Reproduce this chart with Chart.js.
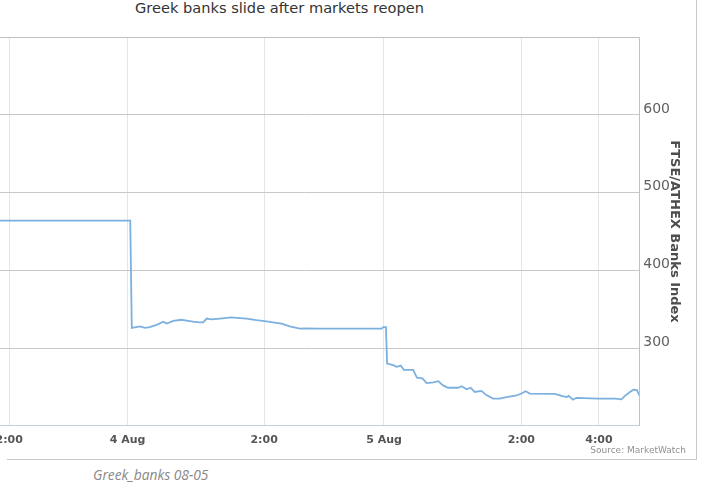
<!DOCTYPE html>
<html>
<head>
<meta charset="utf-8">
<script src="https://cdn.jsdelivr.net/npm/chart.js@4"></script>
<style>
  html, body { margin: 0; padding: 0; background: #fff; overflow: hidden; width: 708px; height: 487px; }
  #frame { position: absolute; left: 7px; top: -10px; width: 689px; height: 469px;
           border-right: 1px solid #c8c8c8; border-bottom: 1px solid #c8c8c8; }
  #title { position: absolute; left: 0; top: -1px; width: 559px; text-align: center;
           font: 14.6px "DejaVu Sans"; color: #333; white-space: nowrap; line-height: 17px; }
  #wrap { position: absolute; left: -30px; top: 0; width: 716px; height: 455px; }
  #credit { position: absolute; right: 22px; top: 445px; font: 9px "DejaVu Sans"; color: #909090; }
  #caption { position: absolute; left: 93px; top: 465px; font: italic 13.8px "Open Sans"; color: #888; }
</style>
</head>
<body>
<div id="frame"></div>
<div id="title">Greek banks slide after markets reopen</div>
<div id="wrap"><canvas id="chart"></canvas></div>
<div id="credit">Source: MarketWatch</div>
<div id="caption">Greek_banks 08-05</div>
<script>
// x is trading-time on an ordinal axis (hours from 4 Aug open, gaps removed)
const tickPos = [-3.05, 0, 3.52, 6.61, 10.15, 12.15];
const tickLabels = ['2:00', '4 Aug', '2:00', '5 Aug', '2:00', '4:00'];

const times = [
  -4.06, 0.07, 0.11, 0.32, 0.45, 0.57, 0.75, 0.92, 1.01, 1.18, 1.39, 1.56, 1.69, 1.86, 1.95,
  2.04, 2.16, 2.38, 2.68, 2.81, 3.07, 3.32, 3.58, 3.75, 3.97, 4.18, 4.44, 4.61, 4.87, 6.55,
  6.59, 6.66, 6.69, 6.85, 6.93, 7.04, 7.12, 7.36, 7.46, 7.60, 7.71, 7.88, 8.01, 8.13, 8.26,
  8.52, 8.61, 8.74, 8.84, 8.95, 9.12, 9.25, 9.42, 9.59, 9.77, 10.03, 10.15, 10.26, 10.37, 11.01,
  11.19, 11.32, 11.37, 11.48, 11.57, 12.13, 12.57, 12.73, 12.82, 12.95, 13.04, 13.13, 13.19
];
const index = [
  464, 464, 326, 328, 326, 327, 330, 334, 331.5, 335, 336.5, 335, 334, 333, 333,
  338, 337, 338, 339.5, 339, 338, 336, 334.5, 333, 331.5, 328, 325, 325.5, 325, 325,
  327, 327, 280, 278, 276, 277.5, 272, 272, 262, 261, 255, 256, 257.5, 252, 249,
  249, 251, 247, 249, 243.5, 245, 239.5, 235, 235, 237, 239, 241.5, 244.5, 241.5, 241,
  238.5, 237, 238.5, 233.5, 236, 235, 235, 234, 238.5, 243.5, 246.5, 246, 239
];

const frame = {
  id: 'frame',
  afterDraw(chart) {
    const { ctx, chartArea: a } = chart;
    const t = Math.round(a.top) + 0.5, r = Math.round(a.right) + 0.5;
    ctx.save();
    ctx.strokeStyle = '#c0c0c0';
    ctx.lineWidth = 1;
    ctx.beginPath();
    ctx.moveTo(a.left, t);
    ctx.lineTo(r, t);
    ctx.lineTo(r, a.bottom);
    ctx.stroke();
    ctx.restore();
  }
};

Chart.defaults.font.family = '"DejaVu Sans", sans-serif';

new Chart(document.getElementById('chart'), {
  type: 'line',
  data: {
    datasets: [{
      data: times.map((t, i) => ({ x: t, y: index[i] })),
      borderColor: '#7cb0de',
      borderWidth: 1.8,
      pointRadius: 0,
      tension: 0,
      fill: false
    }]
  },
  options: {
    responsive: true,
    maintainAspectRatio: false,
    animation: false,
    layout: { padding: { top: 37.3, left: 0, right: 0, bottom: 0 } },
    plugins: { legend: { display: false }, tooltip: { enabled: false }, title: { display: false } },
    scales: {
      x: {
        type: 'linear',
        min: -4.06,
        max: 13.19,
        afterBuildTicks: s => { s.ticks = tickPos.map(v => ({ value: v })); },
        ticks: {
          autoSkip: false,
          maxRotation: 0,
          padding: 8,
          color: '#555',
          font: { size: 11, weight: 'bold' },
          callback: (v, i) => tickLabels[i]
        },
        grid: { color: '#e6e6e6', drawTicks: false },
        border: { color: '#c0d0e0', width: 1 }
      },
      y: {
        position: 'right',
        min: 200,
        max: 700,
        afterFit: s => { s.width = 46.7; },
        ticks: {
          stepSize: 100,
          padding: 4,
          labelOffset: -6,
          color: '#606060',
          font: { size: 14 },
          callback: v => (v === 200 || v === 700) ? null : v
        },
        grid: { color: '#c8c8c8', drawTicks: false },
        border: { display: false },
        title: {
          display: true,
          text: 'FTSE/ATHEX Banks Index',
          color: '#4d4d4d',
          font: { size: 13, weight: 'bold' },
          padding: { top: 4, bottom: 0 }
        }
      }
    }
  },
  plugins: [frame]
});
</script>
</body>
</html>
